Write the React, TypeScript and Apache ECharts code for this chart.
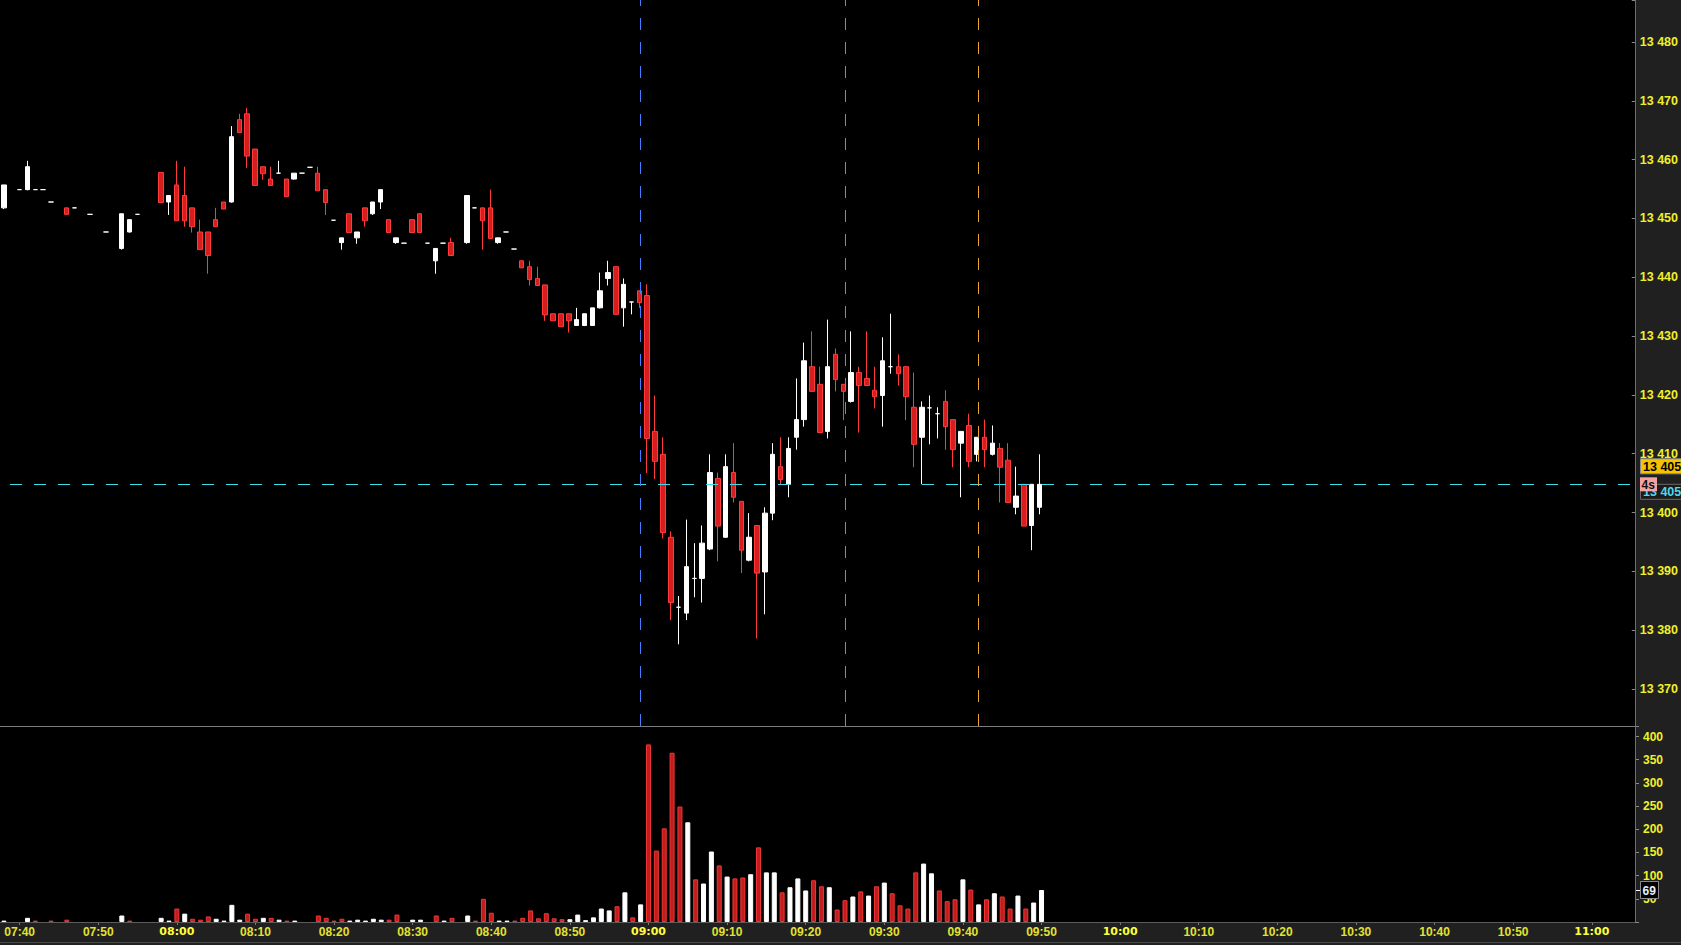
import React, { useEffect, useRef } from "react";
import * as echarts from "echarts";

// ---------- axis categories: one slot per minute from 07:38 ----------
const START_MINUTE = 7 * 60 + 38;
const SLOT_COUNT = 208;
const categories: string[] = Array.from({ length: SLOT_COUNT }, (_, i) => {
  const m = START_MINUTE + i;
  return `${String(Math.floor(m / 60)).padStart(2, "0")}:${String(m % 60).padStart(2, "0")}`;
});

// ---------- 1-minute candles [open, close, low, high]; null = no trade ----------
const candles: (number[] | null)[] = [
  [13451.8, 13455.7, 13451.6, 13455.7], null, [13454.9, 13454.9, 13454.9, 13454.9], [13454.9, 13458.8, 13454.8, 13459.8],
  [13454.9, 13454.9, 13454.9, 13454.9], [13454.9, 13454.9, 13454.9, 13454.9], [13452.8, 13452.8, 13452.8, 13452.8], null,
  [13451.8, 13450.7, 13450.7, 13451.8], [13451.8, 13451.8, 13451.8, 13451.8], null, [13450.7, 13450.7, 13450.7, 13450.7],
  null, [13447.7, 13447.7, 13447.7, 13447.7], null, [13444.9, 13450.8, 13444.7, 13450.8],
  [13447.7, 13449.8, 13447.6, 13449.8], [13450.7, 13450.7, 13450.7, 13450.7], null, null,
  [13457.8, 13452.7, 13452.7, 13457.8], [13452.8, 13453.9, 13450.6, 13453.9], [13455.7, 13449.6, 13449.6, 13459.8], [13453.9, 13449.6, 13448.6, 13458.8],
  [13451.8, 13448.6, 13447.6, 13451.8], [13447.7, 13444.7, 13444.7, 13449.8], [13447.7, 13443.7, 13440.6, 13447.7], [13449.8, 13448.6, 13448.6, 13451.8],
  [13452.8, 13451.6, 13451.6, 13452.8], [13452.8, 13463.9, 13452.7, 13465.7], [13466.8, 13464.6, 13464.6, 13467.8], [13467.8, 13460.6, 13458.6, 13468.8],
  [13461.8, 13455.6, 13455.6, 13461.8], [13458.8, 13457.6, 13456.6, 13458.8], [13456.7, 13455.6, 13455.6, 13458.8], [13457.7, 13457.7, 13457.7, 13459.8],
  [13456.7, 13453.7, 13453.7, 13456.7], [13456.7, 13457.7, 13456.6, 13457.7], [13457.7, 13457.7, 13457.7, 13457.7], [13458.7, 13458.7, 13458.7, 13458.7],
  [13457.7, 13454.7, 13454.7, 13458.8], [13454.9, 13452.7, 13450.6, 13454.9], [13449.7, 13449.7, 13449.7, 13449.7], [13445.9, 13446.7, 13444.7, 13446.7],
  [13450.8, 13447.6, 13447.6, 13450.8], [13446.7, 13447.7, 13445.7, 13447.7], [13451.8, 13449.6, 13448.6, 13451.8], [13450.8, 13452.8, 13450.6, 13452.8],
  [13452.8, 13454.9, 13451.6, 13454.9], [13449.8, 13447.6, 13447.6, 13449.8], [13445.9, 13446.7, 13445.7, 13446.7], [13445.8, 13445.8, 13445.8, 13445.8],
  [13449.8, 13447.6, 13447.6, 13449.8], [13450.8, 13447.6, 13447.6, 13450.8], [13445.8, 13445.8, 13445.8, 13445.8], [13442.8, 13444.9, 13440.6, 13444.9],
  [13445.8, 13445.8, 13445.8, 13445.8], [13445.9, 13443.7, 13443.7, 13446.7], null, [13445.9, 13453.9, 13445.7, 13453.9],
  [13451.8, 13451.8, 13451.8, 13451.8], [13451.8, 13449.6, 13444.7, 13451.8], [13451.8, 13446.6, 13446.6, 13454.9], [13445.9, 13446.7, 13445.7, 13446.7],
  [13447.7, 13447.7, 13447.7, 13447.7], [13444.8, 13444.8, 13444.8, 13444.8], [13442.8, 13441.6, 13441.6, 13442.8], [13441.8, 13439.6, 13438.6, 13442.8],
  [13439.8, 13438.6, 13438.6, 13441.8], [13438.7, 13433.6, 13432.6, 13438.7], [13433.8, 13432.6, 13432.6, 13433.8], [13433.8, 13431.6, 13431.6, 13433.8],
  [13433.8, 13432.6, 13430.6, 13433.8], [13431.8, 13432.8, 13431.8, 13434.8], [13431.8, 13433.8, 13431.7, 13433.8], [13431.8, 13434.8, 13431.8, 13434.8],
  [13434.8, 13437.7, 13434.7, 13440.8], [13439.8, 13440.8, 13438.6, 13442.8], [13441.8, 13433.7, 13433.7, 13441.8], [13434.8, 13438.8, 13431.6, 13439.8],
  [13435.8, 13435.8, 13433.7, 13435.8], [13437.7, 13435.7, 13434.8, 13437.7], [13436.9, 13412.6, 13406.7, 13438.8], [13413.8, 13408.7, 13405.7, 13419.9],
  [13409.9, 13396.6, 13395.6, 13412.8], [13395.8, 13384.7, 13381.7, 13396.8], [13383.9, 13383.9, 13377.6, 13385.8], [13382.9, 13390.8, 13381.7, 13398.8],
  [13388.8, 13388.8, 13385.6, 13394.8], [13388.8, 13394.8, 13384.7, 13397.8], [13393.8, 13406.8, 13393.6, 13409.9], [13405.8, 13397.7, 13391.7, 13406.8],
  [13395.8, 13407.8, 13395.7, 13409.9], [13406.8, 13402.6, 13401.7, 13411.8], [13401.9, 13393.6, 13389.7, 13401.9], [13391.9, 13395.8, 13391.7, 13399.9],
  [13397.8, 13389.7, 13378.6, 13397.8], [13389.9, 13399.9, 13382.7, 13400.9], [13399.9, 13409.9, 13398.7, 13411.8], [13407.8, 13405.6, 13404.8, 13412.8],
  [13404.8, 13410.9, 13402.6, 13412.8], [13412.8, 13415.8, 13410.7, 13422.8], [13415.8, 13425.8, 13414.6, 13428.9], [13424.8, 13420.6, 13420.6, 13430.8],
  [13421.8, 13413.6, 13413.6, 13424.8], [13413.8, 13424.8, 13412.6, 13432.8], [13426.9, 13422.6, 13420.6, 13427.9], [13421.8, 13420.6, 13415.7, 13421.8],
  [13418.9, 13423.8, 13418.7, 13430.8], [13423.8, 13421.6, 13413.6, 13424.8], [13422.8, 13421.6, 13421.6, 13430.8], [13420.8, 13419.7, 13417.7, 13424.8],
  [13419.9, 13425.8, 13414.6, 13429.8], [13424.8, 13424.8, 13423.6, 13433.8], [13424.8, 13423.6, 13421.6, 13426.9], [13424.8, 13419.7, 13415.7, 13424.8],
  [13417.9, 13411.6, 13407.7, 13423.8], [13412.8, 13417.9, 13404.8, 13418.9], [13417.8, 13417.8, 13411.6, 13419.9], [13416.8, 13416.8, 13412.6, 13417.9],
  [13418.9, 13414.6, 13410.7, 13420.8], [13415.8, 13410.7, 13407.7, 13415.8], [13411.8, 13413.8, 13402.6, 13413.8], [13414.8, 13408.7, 13407.7, 13416.8],
  [13409.9, 13412.8, 13408.7, 13412.8], [13412.8, 13410.7, 13407.7, 13415.8], [13409.9, 13411.8, 13409.7, 13414.8], [13410.9, 13407.7, 13401.7, 13411.8],
  [13408.9, 13401.7, 13401.7, 13411.8], [13400.9, 13402.8, 13399.7, 13407.8], [13404.8, 13397.7, 13397.7, 13404.8], [13397.8, 13404.8, 13393.6, 13404.8],
  [13400.9, 13404.8, 13399.7, 13409.9],
];

// ---------- volume per minute, and side (w = buy / white, r = sell / red) ----------
const volumes: (number | null)[] = [
  3, null, null, 9, 3, null, 3, null, 5, null,
  null, null, null, null, null, 14, 3, null, null, null,
  9, 3, 29, 18, 7, 5, 12, 7, 3, 37,
  5, 18, 7, 9, 9, 5, 3, 3, null, null,
  14, 9, 3, 7, 3, 5, 3, 7, 5, 5,
  16, null, 5, 5, null, 14, 3, 9, null, 14,
  3, 50, 20, 3, 3, 3, 9, 25, 8, 19,
  8, 6, 6, 16, 4, 10, 29, 25, 34, 64,
  10, 38, 383, 154, 202, 365, 249, 215, 92, 83,
  152, 122, 98, 94, 96, 103, 161, 107, 107, 64,
  75, 94, 68, 90, 77, 75, 27, 47, 55, 66,
  57, 77, 85, 62, 36, 29, 107, 126, 105, 68,
  45, 49, 92, 70, 38, 49, 62, 55, 29, 57,
  29, 42, 69,
];
const volumeSides: string[] = (
  "w..wr.r.r." + ".....wr..." + "wwrwrrrwww" + "wrrwrwrw.." + "rrrrwwwwwr" +
  "r.ww.rwr.w" + "rrrwwrrrrr" + "rrwwwwwwrw" + "rwrrrrrwrw" + "wrwrrwrwwr" +
  "wwwrrwrrwr" + "wrwrrrrwwr" + "rrwrwrwrrw" + "rww"
).split("");

// ---------- session markers, price / volume scales ----------
const markerTimes = ["08:59", "09:25", "09:42"];
const markerColors = ["#3f7fff", "#e04ee0", "#e8a530"];
const priceMin = 13370;
const priceStep = 10;
const volumeStep = 50;
const volumeLabelMax = 400;
const countdownText = "4s";

const lastCandle = candles[candles.length - 1] as number[];
const lastClose = lastCandle[1];
const lastVolume = volumes[volumes.length - 1] as number;

const RED_FILL = "#d61e1e";
const RED_EDGE = "#ff3b3b";
const WHITE = "#ffffff";
const BAND = "#202020";
const LABEL_FONT = "'Liberation Sans', Arial, sans-serif";
const W = 1681;
const H = 945;
const AXIS_X = 1635;
const SEP_Y = 726;
const VOL_BASE_Y = 922;

const fmtPrice = (v: number) => String(Math.round(v)).replace(/\B(?=(\d{3})+(?!\d))/g, " ");

export default function App() {
  const ref = useRef<HTMLDivElement>(null);

  useEffect(() => {
    document.body.style.margin = "0";
    document.body.style.background = "#000";
    if (!ref.current) return;
    const chart = echarts.init(ref.current, undefined, { renderer: "svg" });

    const candleData = categories.map((_, i) => {
      const c = candles[i];
      if (!c) return "-";
      if (c[0] === c[1]) {
        return {
          value: c,
          itemStyle: { color: WHITE, color0: WHITE, borderColor: WHITE, borderColor0: WHITE },
        };
      }
      return c;
    });

    const volumeData = categories.map((_, i) => {
      const v = volumes[i];
      if (v === null || v === undefined) return "-";
      const up = volumeSides[i] === "w";
      return {
        value: v,
        itemStyle: up
          ? { color: WHITE, borderColor: WHITE, borderWidth: 1 }
          : { color: "#c21d1d", borderColor: "#f03636", borderWidth: 1 },
      };
    });

    const labelEvery10 = (_: number, value: string) => value.slice(-1) === "0";

    // price grid: 13480 -> y=42, 13370 -> y=689 (58.82 px per 10)
    const pxPer10 = (689 - 42) / 11;
    const priceHeight = 689;
    const priceMax = priceMin + (priceHeight / pxPer10) * priceStep;
    // volume grid: 0 -> y=922, 400 -> y=736.5
    const volPxPerUnit = (VOL_BASE_Y - 736.5) / 400;
    const volMax = (VOL_BASE_Y - SEP_Y) / volPxPerUnit;

    const baseGraphic: any[] = [
      { id: "bandR", type: "rect", z: -10, silent: true, shape: { x: AXIS_X + 1, y: 0, width: W - AXIS_X, height: H }, style: { fill: BAND } },
      { id: "bandB", type: "rect", z: -10, silent: true, shape: { x: 0, y: VOL_BASE_Y, width: AXIS_X + 1, height: H - VOL_BASE_Y }, style: { fill: BAND } },
      { id: "axisV", type: "line", z: 20, silent: true, shape: { x1: AXIS_X + 0.5, y1: 0, x2: AXIS_X + 0.5, y2: VOL_BASE_Y + 0.5 }, style: { stroke: "#6e6e6e", lineWidth: 1 } },
      { id: "sep", type: "line", z: 20, silent: true, shape: { x1: 0, y1: SEP_Y + 0.5, x2: AXIS_X, y2: SEP_Y + 0.5 }, style: { stroke: "#7c7c7c", lineWidth: 1 } },
      { id: "axisH", type: "line", z: 20, silent: true, shape: { x1: 0, y1: VOL_BASE_Y + 0.5, x2: AXIS_X, y2: VOL_BASE_Y + 0.5 }, style: { stroke: "#5c5c5c", lineWidth: 1 } },
      { id: "bottomLine", type: "line", z: 20, silent: true, shape: { x1: 0, y1: 942.5, x2: W, y2: 942.5 }, style: { stroke: "#4a4a4a", lineWidth: 1 } },
    ];

    const option: any = {
      animation: false,
      backgroundColor: "#000000",
      grid: [
        { left: 0, right: W - AXIS_X, top: 0, height: priceHeight },
        { left: 0, right: W - AXIS_X, top: SEP_Y, height: VOL_BASE_Y - SEP_Y },
        { left: 0, right: W - AXIS_X, top: 0, height: SEP_Y },
      ],
      xAxis: [
        { type: "category", gridIndex: 0, data: categories, show: false, boundaryGap: true },
        {
          type: "category",
          gridIndex: 1,
          data: categories,
          boundaryGap: true,
          axisLine: { show: false },
          axisTick: { show: true, interval: labelEvery10, alignWithLabel: true, length: 3, lineStyle: { color: "#7a7a7a" } },
          splitLine: { show: false },
          axisLabel: {
            interval: labelEvery10,
            margin: 4,
            formatter: (v: string) => (v.slice(-2) === "00" ? `{h|${v}}` : `{m|${v}}`),
            rich: {
              h: { color: "#ffff3a", fontWeight: "bold", fontSize: 11, fontFamily: "'DejaVu Sans', sans-serif" },
              m: { color: "#e2e232", fontWeight: "bold", fontSize: 12, fontFamily: LABEL_FONT },
            },
          },
        },
        { type: "category", gridIndex: 2, data: categories, show: false, boundaryGap: true },
      ],
      yAxis: [
        {
          type: "value",
          gridIndex: 0,
          position: "right",
          min: priceMin,
          max: priceMax,
          interval: priceStep,
          axisLine: { show: false },
          axisTick: { show: true, length: 4, lineStyle: { color: "#8a8a8a" } },
          splitLine: { show: false },
          axisLabel: {
            margin: 8,
            color: "#f0f02a",
            fontWeight: "bold",
            fontSize: 12.5,
            fontFamily: LABEL_FONT,
            formatter: (v: number) => (Math.abs(v % priceStep) < 1e-6 ? fmtPrice(v) : ""),
          },
        },
        {
          type: "value",
          gridIndex: 1,
          position: "right",
          min: 0,
          max: volMax,
          interval: volumeStep,
          axisLine: { show: false },
          axisTick: { show: true, length: 4, lineStyle: { color: "#8a8a8a" } },
          splitLine: { show: false },
          axisLabel: {
            margin: 8,
            color: "#f0f02a",
            fontWeight: "bold",
            fontSize: 12,
            fontFamily: LABEL_FONT,
            formatter: (v: number) => (v > 0 && v <= volumeLabelMax && v % volumeStep === 0 ? String(v) : ""),
          },
        },
        { type: "value", gridIndex: 2, min: 0, max: 1, show: false },
      ],
      series: [
        {
          type: "candlestick",
          xAxisIndex: 0,
          yAxisIndex: 0,
          data: candleData,
          barWidth: 5,
          itemStyle: { color: WHITE, color0: RED_FILL, borderColor: WHITE, borderColor0: RED_EDGE, borderWidth: 1 },
          markLine: {
            silent: true,
            symbol: ["none", "none"],
            label: { show: false },
            lineStyle: { color: "#3fdcee", type: [12, 12], dashOffset: 14, width: 1 },
            data: [{ yAxis: lastClose }],
          },
        },
        {
          type: "bar",
          xAxisIndex: 1,
          yAxisIndex: 1,
          data: volumeData,
          barWidth: 5,
        },
        {
          type: "line",
          xAxisIndex: 2,
          yAxisIndex: 2,
          data: [],
          markLine: {
            silent: true,
            symbol: ["none", "none"],
            label: { show: false },
            data: markerTimes.map((t, i) => ({ xAxis: t, lineStyle: { color: markerColors[i], type: [12, 12], width: 1 } })),
          },
        },
      ],
      graphic: baseGraphic,
    };

    chart.setOption(option);

    const yLine = chart.convertToPixel({ yAxisIndex: 0 } as any, lastClose) as number;
    const yVol = chart.convertToPixel({ yAxisIndex: 1 } as any, lastVolume) as number;
    const badgeFont = `bold 12.5px ${LABEL_FONT}`;
    const badges: any[] = [
      { id: "lastBox", type: "rect", z: 30, silent: true, shape: { x: 1640.5, y: yLine - 25.5, width: 45, height: 15 }, style: { fill: "#f7c300", stroke: "#8c8c8c", lineWidth: 1 } },
      { id: "lastTxt", type: "text", z: 31, silent: true, x: 1643, y: yLine - 17.8, style: { text: fmtPrice(lastClose), fill: "#000", font: badgeFont, verticalAlign: "middle" } },
      { id: "lineBox", type: "rect", z: 30, silent: true, shape: { x: 1640.5, y: yLine, width: 45, height: 15 }, style: { fill: "#1b1b1b", stroke: "#6a6a6a", lineWidth: 1 } },
      { id: "lineTxt", type: "text", z: 31, silent: true, x: 1643, y: yLine + 8, style: { text: fmtPrice(lastClose), fill: "#4fd8f0", font: badgeFont, verticalAlign: "middle" } },
      { id: "cdBox", type: "rect", z: 32, silent: true, shape: { x: 1640, y: yLine - 7, width: 17, height: 14 }, style: { fill: "#f4a3a3" } },
      { id: "cdTxt", type: "text", z: 33, silent: true, x: 1641.5, y: yLine + 0.5, style: { text: countdownText, fill: "#111", font: `bold 12px ${LABEL_FONT}`, verticalAlign: "middle" } },
      { id: "volStub", type: "line", z: 30, silent: true, shape: { x1: AXIS_X + 1, y1: yVol + 0.5, x2: 1640, y2: yVol + 0.5 }, style: { stroke: "#ffffff", lineWidth: 1 } },
      { id: "volBox", type: "rect", z: 30, silent: true, shape: { x: 1640.5, y: yVol - 8.5, width: 18, height: 17 }, style: { fill: "#000", stroke: "#8c8c8c", lineWidth: 1 } },
      { id: "volTxt", type: "text", z: 31, silent: true, x: 1642.5, y: yVol + 0.5, style: { text: String(lastVolume), fill: "#e8f0ff", font: `bold 12px ${LABEL_FONT}`, verticalAlign: "middle" } },
    ];
    chart.setOption({ graphic: [...baseGraphic, ...badges] });

    return () => {
      chart.dispose();
    };
  }, []);

  return <div ref={ref} style={{ width: W, height: H }} />;
}
